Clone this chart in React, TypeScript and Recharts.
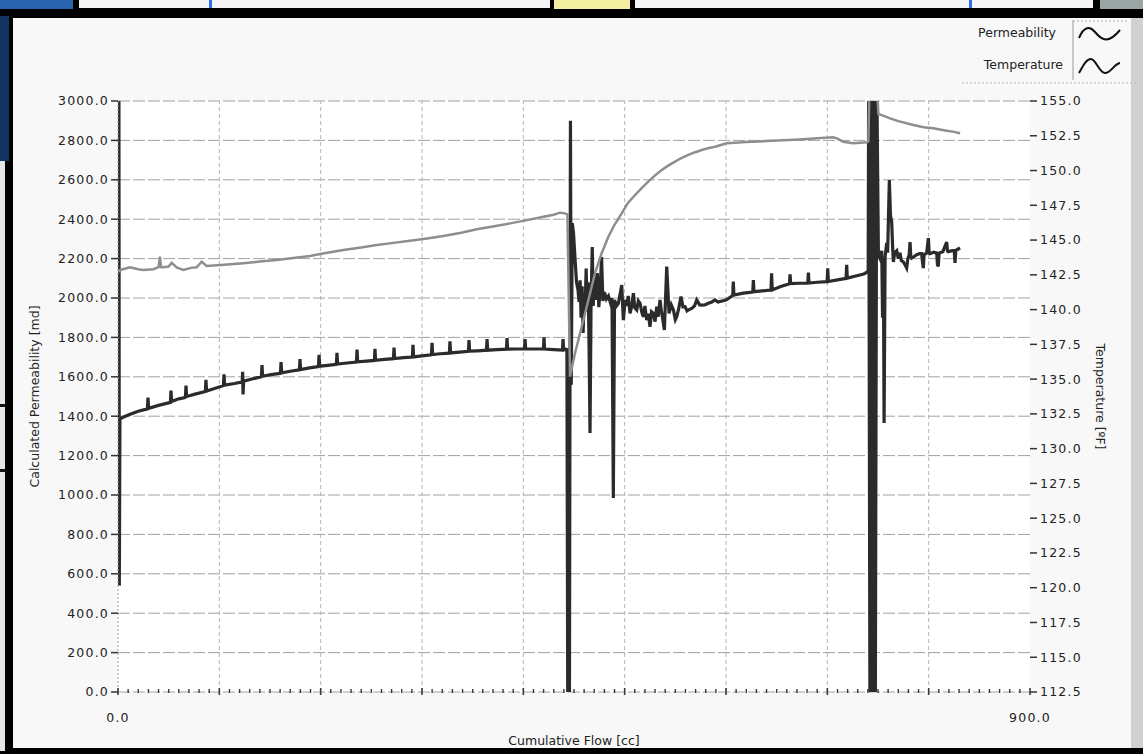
import React from 'react';
import { LineChart, Line, XAxis, YAxis, CartesianGrid, ReferenceLine, Legend } from 'recharts';

// ---------- values ----------
// Permeability [md] vs cumulative flow [cc], as [flow, permeability]
const permRamp: [number, number][] = [
  [0.9, 3050], [1.3, 540], [1.9, 1385], [5, 1395], [12, 1410], [20, 1425],
  [29, 1437], [29.6, 1495], [30.2, 1440], [40, 1455],
  [51.7, 1470], [52.3, 1530], [52.9, 1475], [60, 1488],
  [66.5, 1495], [67.1, 1555], [67.7, 1500], [76, 1512],
  [86.2, 1525], [86.8, 1585], [87.4, 1528], [96, 1542],
  [104, 1555], [104.6, 1612], [105.2, 1558], [115, 1566],
  [122.6, 1574], [123, 1625], [123.4, 1510], [124, 1578], [133, 1590],
  [141.5, 1600], [142.1, 1660], [142.7, 1603], [151, 1611],
  [160.3, 1618], [160.9, 1675], [161.5, 1620], [170, 1628],
  [179, 1635], [179.6, 1690], [180.2, 1637], [189, 1645],
  [197.8, 1652], [198.4, 1712], [199, 1654], [207, 1658],
  [215.5, 1663], [216.1, 1722], [216.7, 1665], [226, 1670],
  [235.3, 1675], [235.9, 1738], [236.5, 1676], [245, 1680],
  [253, 1683], [253.6, 1742], [254.2, 1684], [263, 1688],
  [271.8, 1692], [272.4, 1748], [273, 1693], [282, 1697],
  [290.5, 1700], [291.1, 1762], [291.7, 1701], [300, 1706],
  [309.3, 1712], [309.9, 1772], [310.5, 1713], [318, 1717],
  [327, 1720], [327.6, 1780], [328.2, 1721], [337, 1725],
  [345.8, 1729], [346.4, 1786], [347, 1730], [355, 1732],
  [363.6, 1735], [364.2, 1792], [364.8, 1735], [374, 1738],
  [383.3, 1740], [383.9, 1796], [384.5, 1740], [393, 1741],
  [401.1, 1741], [401.7, 1792], [402.3, 1741], [411, 1741],
  [419.8, 1741], [420.4, 1800], [421, 1741], [430, 1738],
  [438.6, 1736], [439.2, 1792], [439.8, 1736], [442.5, 1740],
];

const permBreakthrough: [number, number][] = [
  [443, 1745], [443.8, 0], [445.5, 0], [446.5, 2900], [447.3, 1560], [448.3, 2380],
  [449.5, 2330], [451, 2200], [452.5, 2080], [454, 2040], [455, 1980], [456, 2090],
  [457, 1900], [458, 2060], [459, 1822], [460, 2010], [461, 1950], [462, 2150],
  [463, 1930], [464, 2080], [465, 1700], [465.8, 1315], [466.8, 1950], [468, 2259],
  [469, 1960], [470, 2120], [471.5, 1990], [473, 2127], [474.5, 1954], [476, 2060],
  [477.2, 2208], [478.5, 1985], [480, 2030], [482, 1995], [484, 2010], [486, 1975],
  [487.5, 2000], [488.8, 985], [490, 1990], [492, 1960], [493.8, 1973], [497.1, 2066],
  [498.7, 1888], [500.5, 1990], [502, 1960], [503.5, 2010], [505.3, 1922], [507, 1960], [508.6, 2024], [510, 1950],
  [511.9, 1939], [513.5, 1985], [515.2, 1973], [516.8, 1930], [518.4, 1905], [520, 1960], [521.7, 1888],
  [523.4, 1920], [525, 1854], [526.5, 1930], [528.3, 1922], [530, 1880], [531.6, 1956], [533, 1905],
  [534.9, 1990], [536, 1940], [537.2, 1905], [539.2, 1838], [541.5, 2159], [543.8, 1922], [546, 1965],
  [548.1, 1939], [550, 1890], [551.4, 1905], [553.5, 1950], [555.6, 2007], [557.5, 1955],
  [559.6, 1956], [561.5, 1935], [563, 1940], [566.2, 1947], [569, 1960], [571.1, 1990], [574, 1965],
  [576, 1964], [579, 1965], [582.6, 1973], [586, 1980], [589.2, 1990],
];

const permSecondStage: [number, number][] = [
  [592, 1980], [600, 1990],
  [606.6, 2012], [607.2, 2083], [607.8, 2015], [617, 2025],
  [626.4, 2030], [627, 2091], [627.6, 2032], [636, 2036],
  [644.4, 2040], [645, 2125], [645.6, 2041], [654, 2058],
  [662.6, 2072], [663.2, 2120], [663.8, 2073], [672, 2075],
  [680.7, 2075], [681.3, 2129], [681.9, 2076], [690, 2080],
  [699.8, 2083], [700.4, 2151], [701, 2084], [710, 2092],
  [718.5, 2100], [719.1, 2168], [719.7, 2101], [728, 2112],
  [736, 2122], [739.5, 2132],
  [740.3, 2140], [740.8, 3100], [742, 0], [743.3, 3100], [744.6, 0],
  [746, 3100], [747.4, 0], [748.8, 3100],
];

const permFinal: [number, number][] = [
  [750.4, 2218], [752, 2200], [753.7, 2240], [754.5, 1900], [755.3, 2200], [756, 1366],
  [757, 2210], [758.6, 2280], [759.5, 2230], [761.2, 2599], [762.3, 2420], [763.5, 2386],
  [764.5, 2250], [765.2, 2183], [766.5, 2230], [768.5, 2240], [770, 2200], [771.7, 2230],
  [773, 2190], [775, 2183], [776.5, 2170], [778.3, 2152], [779.5, 2200], [780.8, 2220],
  [781.6, 2284], [782.3, 2215], [783.2, 2203], [786, 2212], [788.2, 2220], [791, 2225],
  [793.1, 2225], [794, 2180], [794.7, 2152], [795.5, 2220], [798, 2228], [799.7, 2304],
  [800.5, 2228], [801.3, 2225], [805, 2232], [807.9, 2228], [808.7, 2170], [809.5, 2160],
  [810.3, 2228], [814, 2235], [817.8, 2284], [818.6, 2238], [819.4, 2235], [823, 2240],
  [825.2, 2240], [826, 2178], [826.8, 2240], [827.7, 2245], [831, 2254],
];

// Temperature [ºF] vs cumulative flow [cc], as [flow, temperature]
const tempFirstStage: [number, number][] = [
  [0, 142.7], [2, 142.85], [11.8, 143.04], [20, 142.9], [25, 142.85], [34.9, 142.9],
  [40, 143.05], [41.4, 143.8], [42.5, 143.05], [44.7, 143.04], [50, 143.1], [53, 143.37],
  [57.9, 143.04], [64.4, 142.85], [72, 143.0], [77.6, 143.04], [82.6, 143.44], [87.5, 143.13],
  [105, 143.22], [123.7, 143.33], [140, 143.45], [156.6, 143.57], [175, 143.72], [189.5, 143.85],
  [205, 144.07], [222.4, 144.29], [240, 144.47], [255.3, 144.64], [270, 144.78], [288.2, 144.95],
  [305, 145.12], [321, 145.29], [340, 145.55], [354, 145.77], [370, 145.98], [386.9, 146.2],
  [405, 146.45], [419.7, 146.68], [430, 146.82], [436.2, 146.97], [441.1, 146.92], [443.5, 146.85],
];

const tempSecondStage: [number, number][] = [
  [446.1, 135.18], [451, 136.86], [457.6, 138.77], [464.2, 140.69], [470.7, 142.61],
  [477.3, 144.05], [483.9, 145.24], [490, 146.1], [497.1, 146.92], [503, 147.65],
  [510.2, 148.24], [517, 148.75], [523.3, 149.2], [530, 149.65], [536.6, 150.04],
  [543, 150.35], [549.7, 150.64], [556, 150.9], [562.8, 151.12], [569, 151.3],
  [576, 151.48], [582, 151.6], [589.2, 151.71], [600.7, 151.96], [620, 152.05],
  [640.2, 152.12], [656, 152.18], [673, 152.24], [690, 152.32], [705.9, 152.39],
  [710, 152.3], [715.8, 152.07], [725.6, 151.96], [738.9, 152.03],
];

const tempThirdStage: [number, number][] = [
  [740.5, 152.1], [741.5, 156], [749, 156], [750.4, 154.07], [755, 153.95],
  [761.9, 153.75], [770, 153.55], [784.9, 153.27], [795, 153.12], [804.6, 153.04],
  [815, 152.9], [825, 152.78], [831, 152.68],
];

// ---------- axes ----------
const permTicks = [0, 200, 400, 600, 800, 1000, 1200, 1400, 1600, 1800, 2000, 2200, 2400, 2600, 2800, 3000];
const tempTicks = [112.5, 115, 117.5, 120, 122.5, 125, 127.5, 130, 132.5, 135, 137.5, 140, 142.5, 145, 147.5, 150, 152.5, 155];
const flowMinorTicks = Array.from({ length: 91 }, (_, i) => i * 10);
const flowGridLines = [100, 200, 300, 400, 500, 600, 700, 800];
const flowLabelledTicks = [0, 900];

const permData = [...permRamp, ...permBreakthrough, ...permSecondStage, ...permFinal].map(([x, v]) => ({ x, perm: v }));
const tempData = [...tempFirstStage, ...tempSecondStage, ...tempThirdStage].map(([x, t]) => ({ x, temp: t }));

const FONT = "'DejaVu Sans', Verdana, sans-serif";

const FlowTick = (props: any) => {
  const { x, y, payload } = props;
  const v = payload.value as number;
  const major = v % 100 === 0;
  return (
    <g>
      <line x1={x} x2={x} y1={y - (major ? 4 : 3)} y2={y + (major ? 3 : 1)} stroke="#3a3a3a" strokeWidth={major ? 1.6 : 1.4} />
      {flowLabelledTicks.includes(v) && (
        <text x={x} y={y + 30} textAnchor="middle" fontSize={12.5} fontFamily={FONT} fill="#222" letterSpacing={1.2}>
          {v.toFixed(1)}
        </text>
      )}
    </g>
  );
};

const LegendBox = () => (
  <svg width={178} height={70} style={{ display: 'block' }}>
    <line x1={111} x2={111} y1={2} y2={62} stroke="#9a9a9a" strokeWidth={1} />
    <line x1={111} x2={166} y1={3} y2={3} stroke="#b0b0b0" strokeWidth={1} strokeDasharray="2 2" />
    <text x={94} y={19} textAnchor="end" fontSize={12.5} fontFamily={FONT} fill="#222">Permeability</text>
    <path d="M117 20 C 122 8, 128 8, 133 14 S 145 28, 158 12" fill="none" stroke="#111" strokeWidth={2} />
    <text x={101} y={51} textAnchor="end" fontSize={12.5} fontFamily={FONT} fill="#222">Temperature</text>
    <path d="M117 55 C 121 48, 124 41, 129 41 S 137 55, 143 55 S 152 46, 158 45" fill="none" stroke="#111" strokeWidth={2} />
    <line x1={0} x2={176} y1={65} y2={65} stroke="#b8b8b8" strokeWidth={1} strokeDasharray="2 2" />
  </svg>
);

const abs = (left: number, top: number, width: number, height: number, background: string): React.CSSProperties => ({
  position: 'absolute', left, top, width, height, background,
});

export default function App() {
  return (
    <div style={{ position: 'fixed', left: 0, top: 0, width: 1143, height: 754, background: '#000', overflow: 'hidden' }}>
      {/* photographed screen surroundings */}
      <div style={abs(0, 0, 73, 9, '#2a63ad')} />
      <div style={abs(79, 0, 471, 8, '#f4f4f4')} />
      <div style={abs(209, 0, 3, 8, '#2f6fe8')} />
      <div style={abs(554, 0, 76, 9, '#f2eea2')} />
      <div style={abs(635, 0, 458, 8, '#f4f4f4')} />
      <div style={abs(969, 0, 3, 8, '#2f6fe8')} />
      <div style={abs(1100, 0, 43, 9, '#9aa4a4')} />
      <div style={abs(0, 16, 9, 145, '#12345e')} />
      <div style={abs(0, 161, 5, 590, '#e6e6e6')} />
      <div style={abs(0, 404, 5, 3, '#111')} />
      <div style={abs(0, 469, 5, 3, '#111')} />
      <div style={abs(13, 18, 1118, 730, '#f8f8f8')} />
      <div style={abs(1131, 18, 12, 730, '#cfd2d2')} />
      <div style={{ position: 'absolute', left: 0, top: 0 }}>
        <LineChart width={1143} height={754} margin={{ top: 101, right: 0, bottom: 0, left: 0 }}>
          <CartesianGrid yAxisId="perm" vertical={false} fill="#ffffff" stroke="#a2a2a2" strokeDasharray="12 3" />
          {flowGridLines.map((f) => (
            <ReferenceLine key={f} x={f} yAxisId="perm" stroke="#b4b4b4" strokeDasharray="4 3" ifOverflow="hidden" />
          ))}
          <XAxis
            type="number"
            dataKey="x"
            domain={[0, 900]}
            allowDataOverflow
            ticks={flowMinorTicks}
            interval={0}
            tick={<FlowTick />}
            tickSize={0}
            tickMargin={0}
            tickLine={false}
            axisLine={false}
            height={62}
            label={{ value: 'Cumulative Flow [cc]', position: 'insideBottom', offset: 9, style: { fontSize: 12.5, fontFamily: FONT, fill: '#222' } }}
          />
          <YAxis
            yAxisId="perm"
            domain={[0, 3000]}
            allowDataOverflow
            ticks={permTicks}
            interval={0}
            width={118}
            tickSize={7}
            tickMargin={2}
            tickFormatter={(v: number) => v.toFixed(1)}
            tick={{ fill: '#222', fontSize: 12.5, fontFamily: FONT, letterSpacing: 1.2 }}
            tickLine={{ stroke: '#333', strokeWidth: 1.5 }}
            axisLine={{ stroke: '#a0a0a0', strokeDasharray: '2 2' }}
            label={{ value: 'Calculated Permeability [md]', angle: -90, position: 'insideLeft', offset: 35, style: { textAnchor: 'middle', fontSize: 12.5, fontFamily: FONT, fill: '#222' } }}
          />
          <YAxis
            yAxisId="temp"
            orientation="right"
            domain={[112.5, 155]}
            allowDataOverflow
            ticks={tempTicks}
            interval={0}
            width={113}
            tickSize={7}
            tickMargin={3}
            tickFormatter={(v: number) => v.toFixed(1)}
            tick={{ fill: '#222', fontSize: 12.5, fontFamily: FONT, letterSpacing: 1.2 }}
            tickLine={{ stroke: '#333', strokeWidth: 1.5 }}
            axisLine={false}
            label={{ value: 'Temperature [ºF]', angle: 90, position: 'insideRight', offset: 43, style: { textAnchor: 'middle', fontSize: 12.5, fontFamily: FONT, fill: '#222' } }}
          />
          <Legend
            layout="vertical"
            align="center"
            verticalAlign="middle"
            content={() => <LegendBox />}
            wrapperStyle={{ position: 'absolute', top: 18, left: 962, width: 178, height: 70 }}
          />
          <Line
            name="Permeability"
            data={permData}
            dataKey="perm"
            yAxisId="perm"
            type="linear"
            stroke="#2b2b2b"
            strokeWidth={3.2}
            dot={false}
            activeDot={false}
            isAnimationActive={false}
          />
          <Line
            name="Temperature"
            data={tempData}
            dataKey="temp"
            yAxisId="temp"
            type="linear"
            stroke="#8e8e8e"
            strokeWidth={2.5}
            dot={false}
            activeDot={false}
            isAnimationActive={false}
          />
        </LineChart>
      </div>
    </div>
  );
}
